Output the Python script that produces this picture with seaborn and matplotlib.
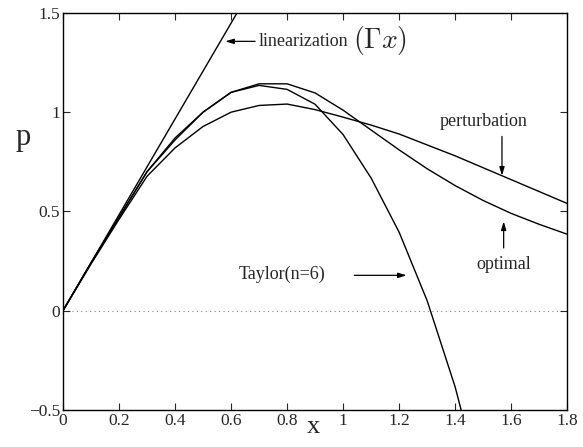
import matplotlib
matplotlib.use("Agg")
import matplotlib.pyplot as plt
import seaborn as sns
import pandas as pd

x_grid = [0.0, 0.1, 0.2, 0.3, 0.4, 0.5, 0.6, 0.7, 0.8, 0.9,
          1.0, 1.1, 1.2, 1.3, 1.4, 1.5, 1.6, 1.7, 1.8]
taylor = [0.0, 0.24, 0.47, 0.70, 0.86, 1.00, 1.10, 1.135, 1.115, 1.04,
          0.887, 0.668, 0.395, 0.05, -0.385, -0.93, -1.6, -2.4, -3.3]
optimal = [0.0, 0.24, 0.47, 0.70, 0.87, 1.00, 1.10, 1.143, 1.143, 1.097,
           1.01, 0.91, 0.81, 0.715, 0.63, 0.555, 0.49, 0.435, 0.385]
perturbation = [0.0, 0.235, 0.46, 0.677, 0.82, 0.928, 1.00, 1.034, 1.041, 1.013,
                0.975, 0.935, 0.89, 0.835, 0.78, 0.72, 0.66, 0.60, 0.54]
lin_x = [0.0, 0.7]
lin_y = [0.0, 1.69]

x_ticks = [0, 0.2, 0.4, 0.6, 0.8, 1.0, 1.2, 1.4, 1.6, 1.8]
x_tick_labels = ["0", "0.2", "0.4", "0.6", "0.8", "1", "1.2", "1.4", "1.6", "1.8"]
y_ticks = [-0.5, 0, 0.5, 1, 1.5]
y_tick_labels = ["\u22120.5", "0", "0.5", "1", "1.5"]

sns.set_style("ticks")
plt.rcParams['font.family'] = ['Liberation Serif', 'DejaVu Serif']
plt.rcParams['mathtext.fontset'] = 'cm'

fig = plt.figure(figsize=(5.83, 4.47), dpi=100)
ax = fig.add_axes([0.108, 0.083, 0.865, 0.888])

df = pd.DataFrame({"x": x_grid, "taylor": taylor, "optimal": optimal,
                   "perturbation": perturbation})
for col in ["taylor", "optimal", "perturbation"]:
    sns.lineplot(data=df, x="x", y=col, ax=ax, color="black", linewidth=1.0,
                 sort=False, estimator=None)
sns.lineplot(x=lin_x, y=lin_y, ax=ax, color="black", linewidth=1.0, estimator=None)

ax.axhline(0, color="#888888", linestyle=(0, (1, 3)), linewidth=0.8, zorder=0)

ax.set_xlim(0, 1.8)
ax.set_ylim(-0.5, 1.5)
ax.set_xticks(x_ticks)
ax.set_xticklabels(x_tick_labels)
ax.set_yticks(y_ticks)
ax.set_yticklabels(y_tick_labels)
ax.tick_params(direction="in", top=True, right=True, length=5, width=0.8,
               labelsize=12.5, pad=2)
for s in ax.spines.values():
    s.set_linewidth(1.0)
    s.set_color("black")
ax.set_xlabel("")
ax.set_ylabel("")

ax.text(-0.079, 0.87, "p", fontsize=22, ha="center", va="center",
        transform=ax.get_yaxis_transform())
ax.text(0.893, -0.585, "x", fontsize=19, ha="center", va="center")

arrow_kw = dict(arrowstyle="-|>,head_length=0.5,head_width=0.15", color="black",
                linewidth=0.9, shrinkA=0, shrinkB=0)
ax.annotate("", xy=(0.579, 1.357), xytext=(0.686, 1.357), arrowprops=arrow_kw)
ax.text(0.70, 1.357, "linearization", fontsize=13, ha="left", va="center")
ax.text(1.132, 1.36, r"$(\Gamma x)$", fontsize=20, ha="center", va="center")

ax.text(1.50, 0.955, "perturbation", fontsize=13, ha="center", va="center")
ax.annotate("", xy=(1.567, 0.68), xytext=(1.567, 0.878), arrowprops=arrow_kw)

ax.text(1.573, 0.232, "optimal", fontsize=13, ha="center", va="center")
ax.annotate("", xy=(1.573, 0.45), xytext=(1.573, 0.316), arrowprops=arrow_kw)

ax.text(0.626, 0.181, "Taylor(n=6)", fontsize=13, ha="left", va="center")
ax.annotate("", xy=(1.227, 0.178), xytext=(1.04, 0.178), arrowprops=arrow_kw)

fig.savefig("out.png", dpi=100, facecolor="white")
